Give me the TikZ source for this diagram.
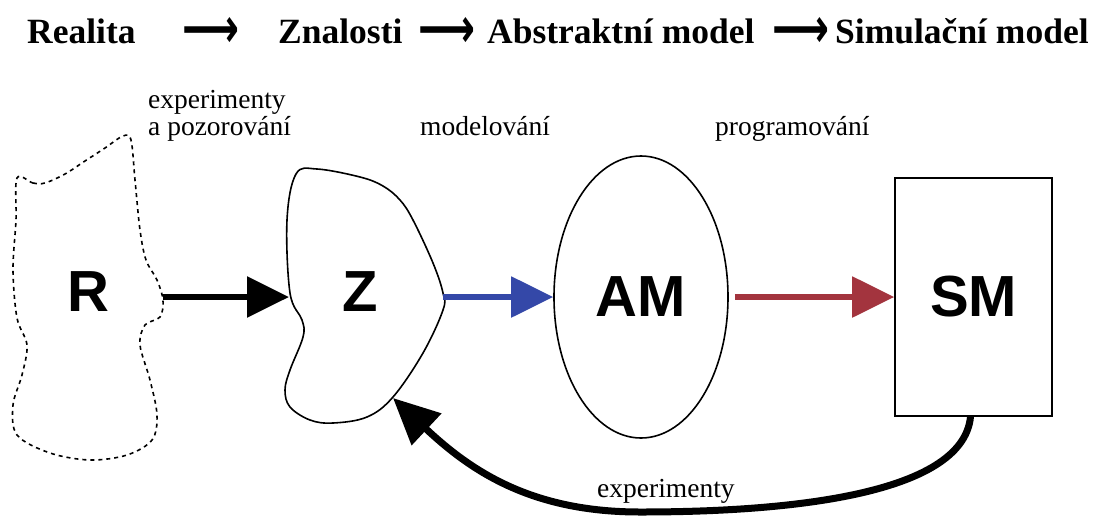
\documentclass[tikz,border=0pt]{standalone}
\usepackage{fontspec}
\setmainfont{Liberation Serif}
\setsansfont{Liberation Sans}
\newfontfamily\arrowfont{DejaVu Sans}[BoldFont={DejaVu Sans Bold}]
\usepackage{graphicx}
\usepackage{tikz}
\usetikzlibrary{shapes.geometric}
\usetikzlibrary{arrows.meta}
\definecolor{amblue}{RGB}{52,72,168}
\definecolor{smred}{RGB}{163,52,62}
\newcommand{\headarrow}{\scalebox{1}[1.4]{\resizebox{57pt}{!}{\arrowfont\bfseries ⟶}}}
\tikzset{
	letter node/.style={font=\sffamily\bfseries\fontsize{58}{60}\selectfont},
	heading/.style={font=\bfseries\fontsize{35.5}{40}\selectfont,inner sep=0pt,anchor=base west},
	caption/.style={font=\fontsize{27.5}{25}\selectfont,inner sep=0pt,anchor=base west},
	flow/.style={-{Triangle[length=42pt,width=40pt]},line width=6pt},
	blob/.style={line width=1.6pt}
}

\begin{document}
\begin{tikzpicture}[x=1pt,y=-1pt]
	\useasboundingbox (0,0) rectangle (1100,515);
	% heading line
	\node [heading] (h1) at (27,43) {Realita};
	\node [heading,anchor=center] (a1) at (211,32) {\headarrow};
	\node [heading] (h2) at (278,43) {Znalosti};
	\node [heading,anchor=center] (a2) at (447,32) {\headarrow};
	\node [heading] (h3) at (487,43) {Abstraktní model};
	\node [heading,anchor=center] (a3) at (801,32) {\headarrow};
	\node [heading] (h4) at (835,43) {Simulační model};
	% blobs
	\draw [blob,dash pattern=on 4pt off 4pt] plot [smooth cycle,tension=0.55] coordinates {
		(17,178) (33,183) (45,183) (65,174) (85,161) (105,148) (123,136) (131,140)
		(135,180) (140,230) (146,260) (157,280) (163,300) (160,317) (145,325)
		(140,345) (150,380) (157,415) (152,440) (127,455) (90,460) (50,453)
		(17,435) (13,405) (22,375) (27,345) (17,318) (13,270) (16,220)};
	\draw [blob] plot [smooth cycle,tension=0.6] coordinates {
		(296,174) (317,169) (360,177) (383,186) (400,200) (413,220) (433,263)
		(443,293) (443,310) (423,353) (393,397) (367,417) (333,423) (310,420)
		(290,407) (285,390) (290,370) (303,337) (302,320) (290,293) (287,220)};
	\coordinate (rout) at (163,297);
	\coordinate (zin) at (289,297);
	\coordinate (zout) at (443,297);
	\coordinate (zback) at (393,398);
	% nodes
	\node [letter node] (R) at (88,292) {R};
	\node [letter node] (Z) at (360,292) {Z};
	\node [letter node,draw,ellipse,line width=1.6pt,inner sep=0pt,
		minimum width=174pt,minimum height=282pt] (AM) at (641,297) {AM};
	\node [letter node,draw,rectangle,line width=1.6pt,
		minimum width=157pt,minimum height=238pt] (SM) at (973.5,297) {SM};
	% arrows
	\draw [flow] (rout) -- (zin);
	\draw [flow,amblue,line width=5.5pt] (zout) -- (AM.west);
	\draw [flow,smred,line width=5.5pt] ([xshift=6pt]AM.east) -- (SM.west);
	\draw [-{Triangle[length=46pt,width=42pt]},line width=7pt]
		([xshift=-3pt]SM.south) .. controls +(-8,80) and (780,512) .. (640,512)
		.. controls (530,512) and (470,470) .. (zback);
	% labels
	\node [caption] (l1) at (148,108) {experimenty};
	\node [caption] (l2) at (148,135) {a pozorování};
	\node [caption] (l3) at (420,135) {modelování};
	\node [caption] (l4) at (715,135) {programování};
	\node [caption] (l5) at (597,497) {experimenty};
\end{tikzpicture}
\end{document}
